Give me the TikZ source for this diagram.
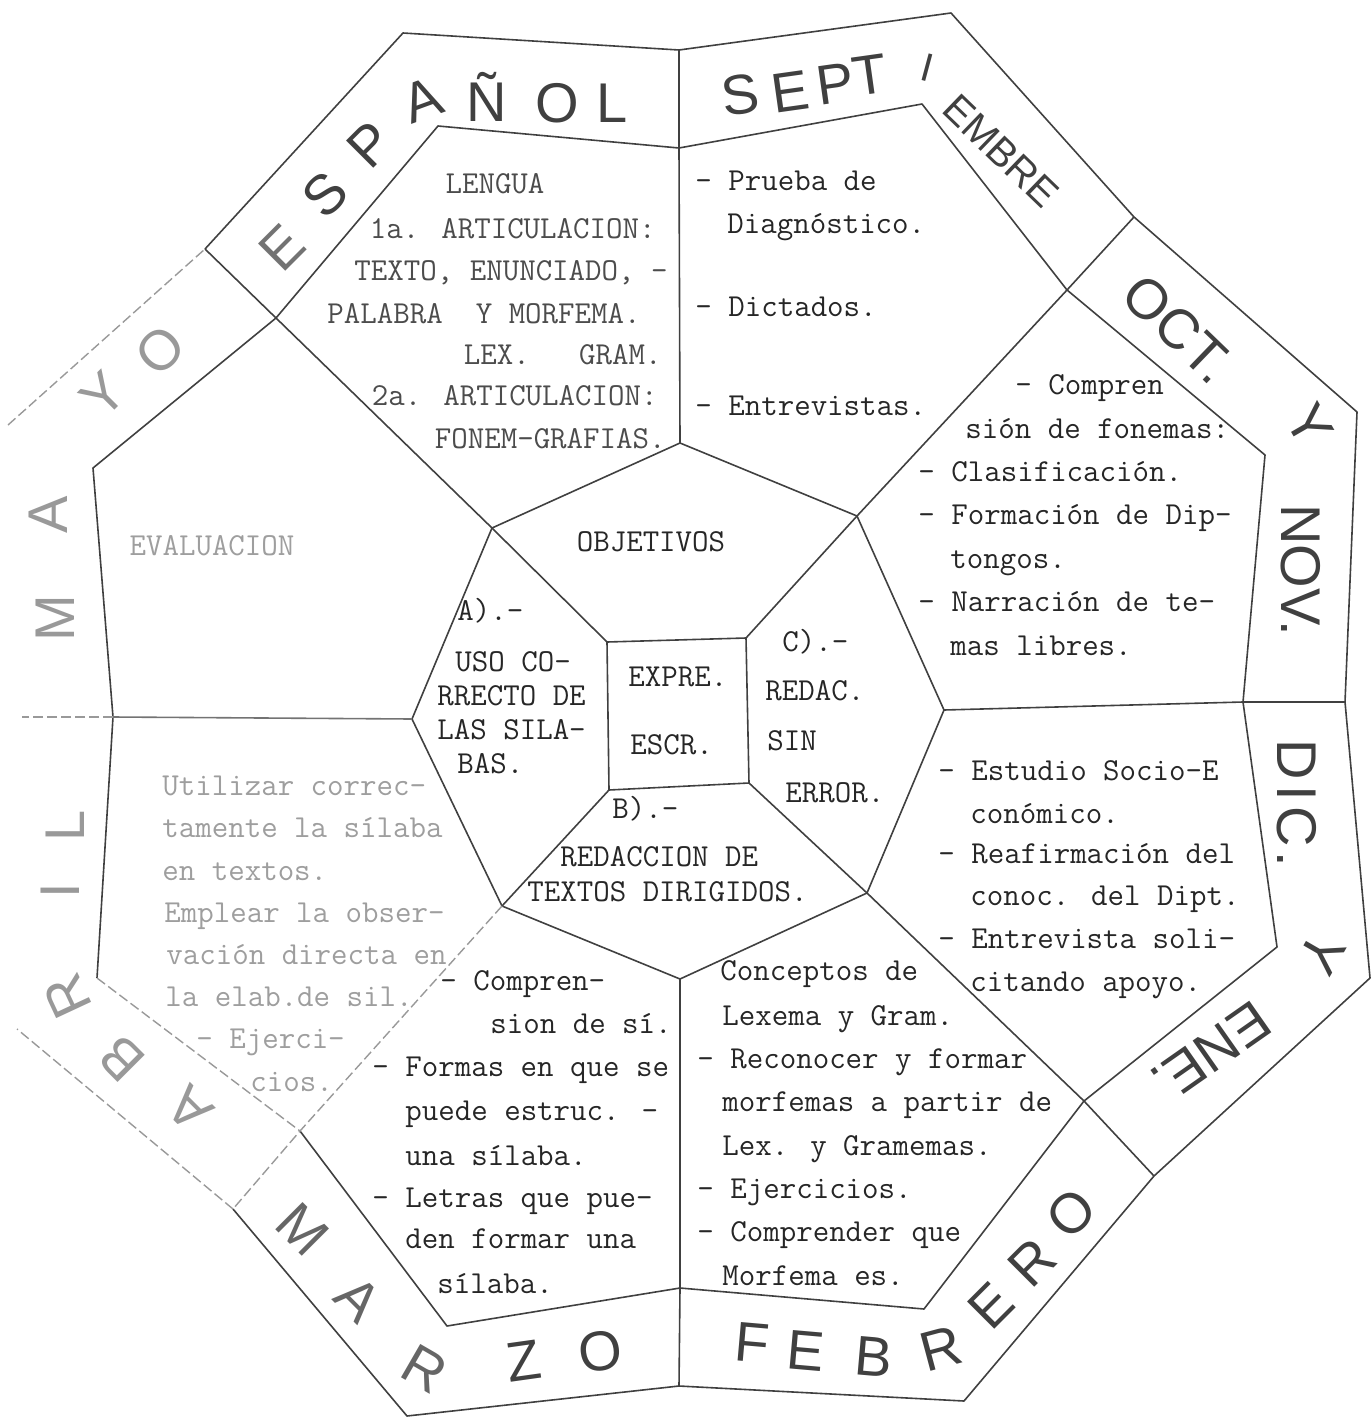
\documentclass[tikz,border=0pt]{standalone}
\usepackage{fontspec}
\newfontfamily\handfont{Liberation Sans}
\begin{document}
\begin{tikzpicture}[x=0.5pt,y=-0.5pt,
  ln/.style={line width=0.8pt,draw=black!75,line join=round},
  faint/.style={line width=0.7pt,draw=black!40,dash pattern=on 5pt off 2pt},
  tw/.style={font=\ttfamily\fontsize{16}{18}\selectfont,text=black!85,inner sep=0pt},
  twl/.style={tw,anchor=base west},
  twr/.style={tw,anchor=base east},
  twc/.style={tw,anchor=base},
  pale/.style={text=black!38},
  mid/.style={text=black!70},
  ml/.style={font=\handfont\fontsize{28}{30}\selectfont,text=black!75,inner sep=0pt},
  mls/.style={ml,font=\handfont\fontsize{20}{22}\selectfont},
  mlp/.style={ml,text=black!40},
]
\useasboundingbox (0,0) rectangle (1371,1418);
% ---------- outer boundary of month ring
\coordinate (O1) at (403,33);
\coordinate (Otm) at (679,50);
\coordinate (O2) at (951,13);
\coordinate (Ourd) at (1134,217);
\coordinate (O3) at (1357,412);
\coordinate (Orm) at (1345,702);
\coordinate (O4) at (1370,978);
\coordinate (Olrd) at (1154,1176);
\coordinate (O5) at (964,1401);
\coordinate (Obm) at (679,1386);
\coordinate (O6) at (407,1416);
\coordinate (Olld) at (233,1209);
\coordinate (O7) at (17,1029);
\coordinate (Olm) at (22,717);
\coordinate (O8) at (8,425);
\coordinate (Ould) at (205,249);
% ---------- inner boundary of month ring
\coordinate (M1) at (438,126);
\coordinate (Mtm) at (679,148);
\coordinate (M2) at (922,104);
\coordinate (Murd) at (1067,290);
\coordinate (M3) at (1265,455);
\coordinate (Mrm) at (1243,702);
\coordinate (M4) at (1277,947);
\coordinate (Mlrd) at (1084,1101);
\coordinate (M5) at (924,1309);
\coordinate (Mbm) at (680,1288);
\coordinate (M6) at (447,1326);
\coordinate (Mlld) at (300,1131);
\coordinate (M7) at (97,978);
\coordinate (Mlm) at (113,717);
\coordinate (M8) at (93,468);
\coordinate (Muld) at (276,318);
% ---------- inner octagon
\coordinate (It) at (680,443);
\coordinate (Itr) at (857,516);
\coordinate (Ir) at (944,710);
\coordinate (Ibr) at (867,893);
\coordinate (Ib) at (680,979);
\coordinate (Ibl) at (502,906);
\coordinate (Il) at (412,719);
\coordinate (Itl) at (492,528);
% ---------- centre square
\coordinate (Stl) at (607,642);
\coordinate (Str) at (746,638);
\coordinate (Sbr) at (749,783);
\coordinate (Sbl) at (609,790);

% ---------- lines
\draw[ln] (Ould) -- (O1) -- (Otm) -- (O2) -- (Ourd) -- (O3) -- (Orm) -- (O4) -- (Olrd) -- (O5) -- (Obm) -- (O6) -- (Olld);
\draw[faint] (Olld) -- (O7);
\draw[faint] (O8) -- (Ould);
\draw[ln] (Mlld) -- (M6) -- (Mbm) -- (M5) -- (Mlrd) -- (M4) -- (Mrm) -- (M3) -- (Murd) -- (M2) -- (Mtm) -- (M1) -- (Muld) -- (M8) -- (Mlm) -- (M7);
\draw[faint] (M7) -- (Mlld);
\draw[ln] (It) -- (Itr) -- (Ir) -- (Ibr) -- (Ib) -- (Ibl) -- (Il) -- (Itl) -- cycle;
\draw[ln] (Stl) -- (Str) -- (Sbr) -- (Sbl) -- cycle;
\draw[ln] (Stl) -- (Itl);
\draw[ln] (Str) -- (Itr);
\draw[ln] (Sbr) -- (Ibr);
\draw[ln] (Sbl) -- (Ibl);
\draw[ln] (It) -- (Mtm) -- (Otm);
\draw[ln] (Itl) -- (Muld) -- (Ould);
\draw[ln,draw=black!55] (Il) -- (Mlm);
\draw[faint] (Mlm) -- (Olm);
\draw[faint] (Ibl) -- (Mlld) -- (Olld);
\draw[ln] (Ib) -- (Mbm) -- (Obm);
\draw[ln] (Ibr) -- (Mlrd) -- (Olrd);
\draw[ln] (Ir) -- (Mrm) -- (Orm);
\draw[ln] (Itr) -- (Murd) -- (Ourd);

% ---------- LENGUA sector
\node[twc,mid] (le0) at (495,193) {LENGUA};
\node[twr,mid] (le1) at (656,238) {1a. ARTICULACION:};
\node[twr,mid] (le2) at (668,280) {TEXTO, ENUNCIADO, -};
\node[twr,mid] (le3) at (641,323) {PALABRA~~Y MORFEMA.};
\node[twr,mid] (le4) at (662,364) {LEX.~~~GRAM.};
\node[twr,mid] (le5) at (658,405) {2a. ARTICULACION:};
\node[twr,mid] (le6) at (666,448) {FONEM-GRAFIAS.};
% ---------- SEPTIEMBRE sector
\node[twl] (se1) at (695,191) {- Prueba de};
\node[twl] (se2) at (727,233) {Diagnóstico.};
\node[twl] (se3) at (695,316) {- Dictados.};
\node[twl] (se4) at (695,415) {- Entrevistas.};
% ---------- OCT. Y NOV. sector
\node[twl] (oc1) at (1015,394) {- Compren};
\node[twl] (oc2) at (965,438) {sión de fonemas:};
\node[twl] (oc3) at (918,481) {- Clasificación.};
\node[twl] (oc4) at (918,524) {- Formación de Dip-};
\node[twl] (oc5) at (950,568) {tongos.};
\node[twl] (oc6) at (918,611) {- Narración de te-};
\node[twl] (oc7) at (950,655) {mas libres.};
% ---------- DIC. Y ENE. sector
\node[twl] (di1) at (938,780) {- Estudio Socio-E};
\node[twl] (di2) at (970,823) {conómico.};
\node[twl] (di3) at (938,863) {- Reafirmación del};
\node[twl] (di4) at (970,905) {conoc. del Dipt.};
\node[twl] (di5) at (938,948) {- Entrevista soli-};
\node[twl] (di6) at (970,991) {citando apoyo.};
% ---------- FEBRERO sector
\node[twl] (fe1) at (720,980) {Conceptos de};
\node[twl] (fe2) at (722,1025) {Lexema y Gram.};
\node[twl] (fe3) at (697,1068) {- Reconocer y formar};
\node[twl] (fe4) at (722,1111) {morfemas a partir de};
\node[twl] (fe5) at (722,1155) {Lex. y Gramemas.};
\node[twl] (fe6) at (697,1198) {- Ejercicios.};
\node[twl] (fe7) at (697,1241) {- Comprender que};
\node[twl] (fe8) at (722,1285) {Morfema es.};
% ---------- MARZO sector
\node[twl] (ma1) at (440,990) {- Compren-};
\node[twl] (ma2) at (490,1033) {sion de sí.};
\node[twl] (ma3) at (372,1076) {- Formas en que se};
\node[twl] (ma4) at (405,1120) {puede estruc. -};
\node[twl] (ma5) at (405,1165) {una sílaba.};
\node[twl] (ma6) at (372,1207) {- Letras que pue-};
\node[twl] (ma7) at (405,1248) {den formar una};
\node[twl] (ma8) at (437,1293) {sílaba.};
% ---------- ABRIL sector (faded)
\node[twl,pale] (ab1) at (162,795) {Utilizar correc-};
\node[twl,pale] (ab2) at (162,837) {tamente la sílaba};
\node[twl,pale] (ab3) at (162,880) {en textos.};
\node[twl,pale] (ab4) at (164,922) {Emplear la obser-};
\node[twl,pale] (ab5) at (166,964) {vación directa en};
\node[twl,pale] (ab6) at (165,1006) {la elab.de sil.};
\node[twl,pale] (ab7) at (196,1048) {- Ejerci-};
\node[twl,pale] (ab8) at (250,1091) {cios.};
% ---------- MAYO sector
\node[twc,pale] (ev) at (212,555) {EVALUACION};
% ---------- inner octagon
\node[twc] (obj) at (651,551) {OBJETIVOS};
\node[twl] (a1) at (457,620) {A).-};
\node[twl] (a2) at (455,671) {USO CO-};
\node[twl] (a3) at (437,705) {RRECTO DE};
\node[twl] (a4) at (437,739) {LAS SILA-};
\node[twl] (a5) at (457,773) {BAS.};
\node[twl] (s1) at (628,686) {EXPRE.};
\node[twl] (s2) at (630,754) {ESCR.};
\node[twl] (c1) at (782,651) {C).-};
\node[twl] (c2) at (765,700) {REDAC.};
\node[twl] (c3) at (767,750) {SIN};
\node[twl] (c4) at (785,802) {ERROR.};
\node[twl] (b1) at (612,818) {B).-};
\node[twl] (b2) at (560,866) {REDACCION DE};
\node[twl] (b3) at (527,901) {TEXTOS DIRIGIDOS.};

% ---------- month letters
% MAYO
\node[mlp,rotate=90] (mM1) at (55,618) {M};
\node[mlp,rotate=90] (mA1) at (48,515) {A};
\node[mlp,rotate=45] (mY1) at (103,395) {Y};
\node[mlp,rotate=45] (mO1) at (160,350) {O};
% ESPAÑOL
\node[ml,rotate=45,text=black!55] (mE1) at (282,248) {E};
\node[ml,rotate=45] (mS1) at (325,195) {S};
\node[ml,rotate=45] (mP1) at (370,145) {P};
\node[ml,rotate=20] (mA2) at (422,100) {A};
\node[ml] (mN1) at (487,97) {Ñ};
\node[ml] (mO2) at (557,103) {O};
\node[ml] (mL1) at (612,103) {L};
% SEPTIEMBRE
\node[ml,rotate=8] (mS2) at (740,95) {S};
\node[ml,rotate=8] (mE2) at (790,92) {E};
\node[ml,rotate=8] (mP2) at (835,84) {P};
\node[ml,rotate=8] (mT1) at (870,75) {T};
\node[mls,rotate=-15] (mI1) at (927,68) {I};
\node[mls,rotate=-44] (wEMBRE) at (1001,151) {EMBRE};
% OCT. Y NOV.
\node[ml,rotate=-44] (wOCT) at (1178,329) {OCT.};
\node[ml,rotate=-60] (mY2) at (1310,425) {Y};
\node[ml,rotate=-90] (wNOV) at (1301,570) {NOV.};
% DIC. Y ENE.
\node[ml,rotate=-90] (wDIC) at (1297,803) {D\kern3pt I\kern3pt C\kern2pt .};
\node[ml,rotate=-120] (mY3) at (1322,953) {Y};
\node[ml,rotate=215] (wENE) at (1211,1052) {ENE.};
% FEBRERO
\node[ml,rotate=-5] (mF1) at (752,1343) {F};
\node[ml,rotate=-5] (mE7) at (806,1351) {E};
\node[ml,rotate=-5] (mB2) at (874,1357) {B};
\node[ml,rotate=15] (mR2) at (941,1349) {R};
\node[ml,rotate=45] (mE8) at (991,1306) {E};
\node[ml,rotate=45] (mR3) at (1032,1263) {R};
\node[ml,rotate=45] (mO5) at (1071,1213) {O};
% MARZO
\node[ml,rotate=-45,text=black!60] (mM3) at (303,1229) {M};
\node[ml,rotate=-45,text=black!60] (mA3) at (358,1299) {A};
\node[ml,rotate=-30,text=black!60] (mR4) at (425,1369) {R};
\node[ml,rotate=8] (mZ1) at (524,1361) {Z};
\node[ml,rotate=8] (mO6) at (600,1351) {O};
% ABRIL
\node[mlp,rotate=135] (mA4) at (190,1109) {A};
\node[mlp,rotate=135] (mB3) at (122,1059) {B};
\node[mlp,rotate=115] (mR5) at (67,996) {R};
\node[mlp,rotate=90] (mI3) at (60,891) {I};
\node[mlp,rotate=90] (mL2) at (65,826) {L};
\end{tikzpicture}
\end{document}
